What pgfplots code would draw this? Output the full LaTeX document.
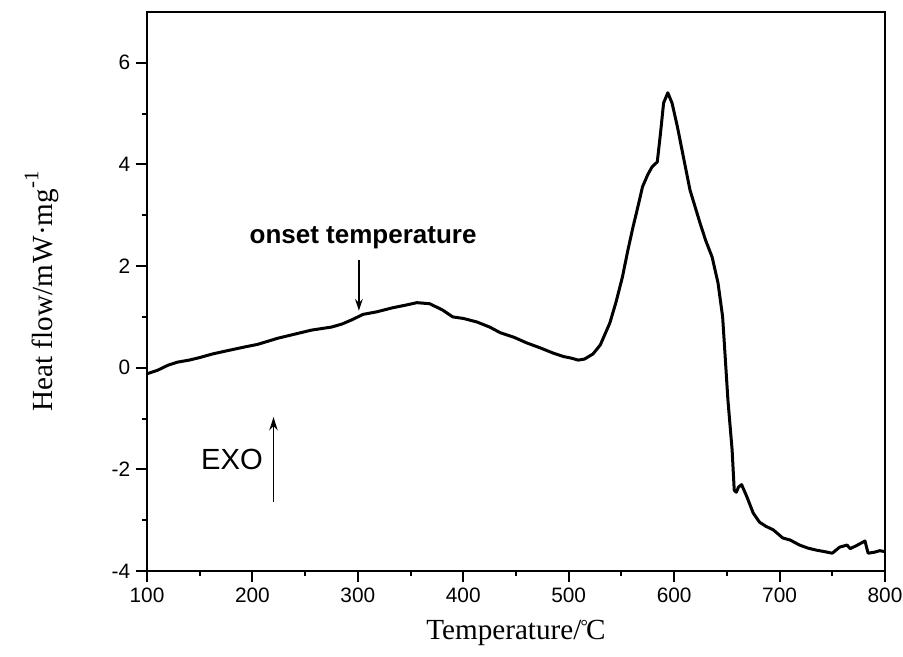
\documentclass[border=0pt]{standalone}
\usepackage{fontspec}
\setmainfont{Liberation Sans}
\newfontfamily\serif{Liberation Serif}
\usepackage{pgfplots}
\pgfplotsset{compat=1.18}
\usetikzlibrary{arrows.meta}
\pgfplotstableread{
x y
100 -0.12
110 -0.05
120 0.05
129 0.11
140 0.15
150 0.20
162 0.27
175 0.33
193 0.41
205 0.46
224 0.58
240 0.66
256 0.74
275 0.80
285 0.86
294 0.94
305 1.05
318 1.10
333 1.18
345 1.23
356 1.28
368 1.26
380 1.14
390 1.00
400 0.97
413 0.90
425 0.80
435 0.69
448 0.60
460 0.49
473 0.39
485 0.29
495 0.22
500 0.20
504 0.18
509 0.15
515 0.17
523 0.27
530 0.45
539 0.88
545 1.30
551 1.79
556 2.30
561 2.77
566 3.20
570 3.56
575 3.80
579 3.95
584 4.05
587 4.60
590 5.21
594 5.41
598 5.21
603 4.75
608 4.23
615 3.50
624.5 2.85
630 2.50
636 2.18
641.6 1.67
646 1.00
648 0.35
651 -0.63
655 -1.62
657 -2.41
659 -2.45
661 -2.35
664 -2.30
669 -2.54
675 -2.86
681 -3.04
687 -3.12
694 -3.19
703 -3.35
710 -3.39
719 -3.49
727 -3.55
735 -3.59
743 -3.62
750 -3.65
757 -3.53
764 -3.49
767 -3.56
773 -3.50
781 -3.41
784 -3.65
790 -3.63
795 -3.60
800 -3.62
}\dsc
\begin{document}
\begin{tikzpicture}
\path[use as bounding box] (-88.2pt,-51.6pt) rectangle (453.6pt,342.6pt);
\begin{axis}[
  at={(0pt,0pt)}, anchor=south west,
  scale only axis, width=442.8pt, height=335.4pt,
  xmin=100, xmax=800, ymin=-4, ymax=7,
  xtick={100,200,...,800},
  xticklabels={100,200,300,400,500,600,700,800},
  minor xtick={150,250,...,750},
  ytick={-4,-2,0,2,4,6},
  yticklabels={-4,-2,0,2,4,6},
  minor ytick={-3,-1,1,3,5},
  tick pos=left,
  tick align=outside,
  major tick length=6.6pt,
  minor tick length=3pt,
  every tick/.style={black, line width=1.2pt},
  axis line style={black, line width=1.5pt},
  ticklabel style={font=\fontsize{12.5}{14}\selectfont},
  xlabel={Temperature/\kern-0.5pt\raisebox{0.25em}{\fontsize{11}{12}\selectfont °}\kern-1ptC},
  ylabel={Heat flow/m\kern1ptW·mg\raisebox{0.5em}{\fontsize{12.5}{14}\selectfont -1}},
  label style={font=\serif\fontsize{17.5}{20}\selectfont},
  xlabel style={at={(axis description cs:0.5,-0.1234)}, anchor=base},
  ylabel style={at={(axis description cs:-0.1274,0.5)}, anchor=base},
  clip=false,
]
\addplot[black, line width=1.8pt, line join=round] table[x=x,y=y] {\dsc};
\node[font=\bfseries\fontsize{15.6}{18}\selectfont] at (axis cs:305,2.555) {onset temperature};
\draw[line width=1.1pt, -{Stealth[length=7pt,width=4.5pt]}] (axis cs:301,2.12) -- (axis cs:301,1.12);
\node[font=\fontsize{17.5}{20}\selectfont] at (axis cs:180.6,-1.8) {EXO};
\draw[line width=1.1pt, -{Stealth[length=8pt,width=5pt]}] (axis cs:220,-2.64) -- (axis cs:220,-0.97);
\end{axis}
\end{tikzpicture}
\end{document}
